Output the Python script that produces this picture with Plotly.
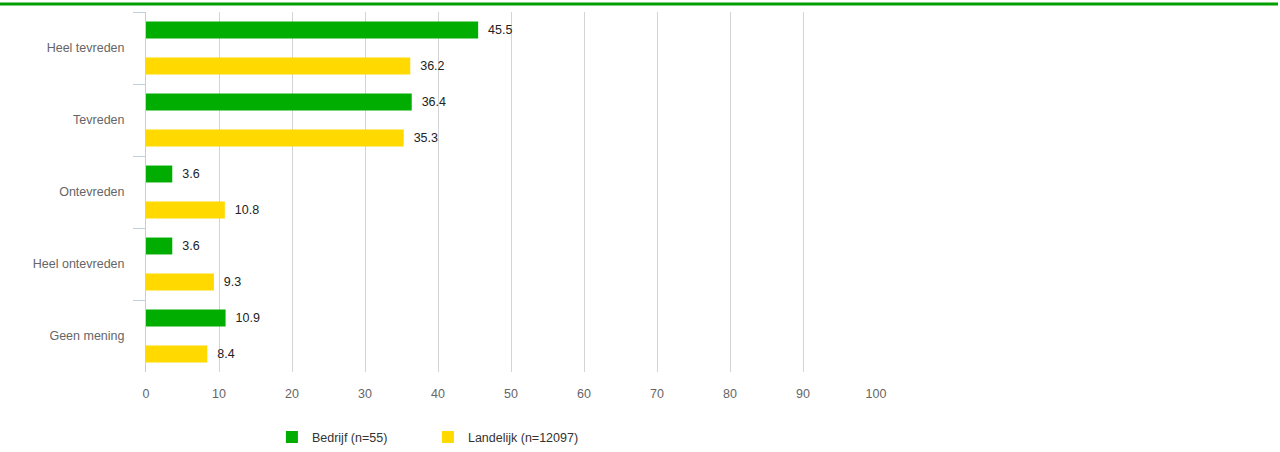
import plotly.graph_objects as go

categories = ["Heel tevreden", "Tevreden", "Ontevreden", "Heel ontevreden", "Geen mening"]
bedrijf = [45.5, 36.4, 3.6, 3.6, 10.9]
landelijk = [36.2, 35.3, 10.8, 9.3, 8.4]
series_names = ["Bedrijf (n=55)", "Landelijk (n=12097)"]
x_ticks = [0, 10, 20, 30, 40, 50, 60, 70, 80, 90, 100]

GREEN = "#00AD00"
YELLOW = "#FFD900"
font = "Liberation Sans, Arial, sans-serif"

fig = go.Figure()
for name, vals, col in [(series_names[0], bedrijf, GREEN), (series_names[1], landelijk, YELLOW)]:
    fig.add_trace(go.Bar(
        y=categories, x=vals, orientation="h", name=name,
        marker=dict(color=col, line=dict(width=0)),
        texttemplate="  %{x:.1f}", textposition="outside",
        textfont=dict(family=font, size=12.5, color="#222"),
        cliponaxis=False,
    ))

fig.update_layout(
    width=1280, height=452,
    margin=dict(l=146, r=404, t=12, b=80, autoexpand=False),
    paper_bgcolor="white", plot_bgcolor="white",
    barmode="group", bargap=0.0, bargroupgap=0.53,
    font=dict(family=font, size=12.5, color="#666"),
    showlegend=True,
    legend=dict(orientation="h", x=0.1725, xanchor="left", y=-0.14, yanchor="top",
                font=dict(family=font, size=12.5, color="#333"), traceorder="normal",
                itemwidth=30, entrywidth=111, entrywidthmode="pixels"),
    xaxis=dict(range=[0, 100], tickvals=x_ticks, showgrid=True, gridcolor="#D4D4D4",
               gridwidth=1, zeroline=False, showline=False, ticks="",
               ticklabelstandoff=12, automargin=False,
               tickfont=dict(size=12.5, color="#666"), fixedrange=True),
    yaxis=dict(autorange="reversed", showline=True, linecolor="#C0D0E0", linewidth=1,
               ticks="outside", tickson="boundaries", ticklen=12, tickcolor="#C0D0E0",
               ticklabelstandoff=18, automargin=False,
               tickfont=dict(size=12.5, color="#666"), showgrid=False),
    shapes=[dict(type="line", xref="paper", yref="paper",
                 x0=-146 / 730, x1=(1278 - 146) / 730,
                 y0=1 + 8 / 360, y1=1 + 8 / 360,
                 line=dict(color="#00A000", width=3))],
)

fig.write_html("out.html", config={"displayModeBar": False},
               post_script="document.body.style.margin='0';")
